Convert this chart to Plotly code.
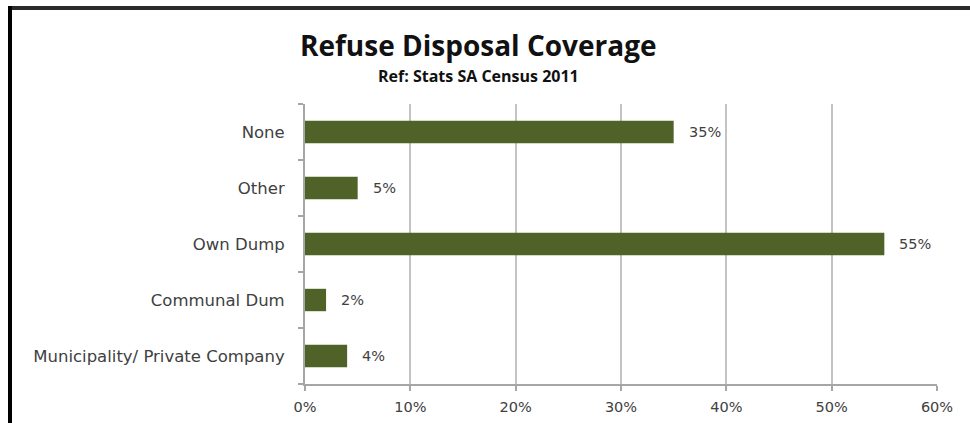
import plotly.graph_objects as go

# Refuse disposal coverage (Stats SA Census 2011), share of households in %
categories = ["None", "Other", "Own Dump", "Communal Dum", "Municipality/ Private Company"]
coverage_pct = [35, 5, 55, 2, 4]
x_ticks = [0, 10, 20, 30, 40, 50, 60]
x_tick_labels = ["0%", "10%", "20%", "30%", "40%", "50%", "60%"]

W, H = 970, 423
M_L, M_R, M_T, M_B = 305, 33, 104, 39
PW, PH = W - M_L - M_R, H - M_T - M_B

BAR = "#4F6228"
TXT = "#404040"
GRID = "#c3c3c3"
AXIS = "#a6a6a6"
FONT = "DejaVu Sans"


def px_x(px):
    return (px - M_L) / PW


def px_y(py):
    return (H - M_B - py) / PH


fig = go.Figure(
    go.Bar(
        x=coverage_pct,
        y=categories,
        orientation="h",
        marker=dict(color=BAR, line=dict(width=0)),
        width=0.4,
        hoverinfo="skip",
    )
)

# value labels just right of each bar end
for cat, v in zip(categories, coverage_pct):
    fig.add_annotation(
        x=v, y=cat, xref="x", yref="y",
        text=f"{v}%", showarrow=False,
        xanchor="left", xshift=13, yshift=0,
        font=dict(family=FONT, size=14.5, color=TXT),
    )

# title and source line
fig.add_annotation(
    x=px_x(478), y=px_y(45), xref="paper", yref="paper",
    text="<b>Refuse Disposal Coverage</b>", showarrow=False,
    xanchor="center", yanchor="middle", borderpad=0,
    font=dict(family="Open Sans", size=28, color="#111111"),
)
fig.add_annotation(
    x=px_x(478), y=px_y(76), xref="paper", yref="paper",
    text="<b>Ref: Stats SA Census 2011</b>", showarrow=False,
    xanchor="center", yanchor="middle", borderpad=0,
    font=dict(family="Open Sans", size=16, color="#111111"),
)

# outer frame: top and left edges
fig.add_shape(type="line", xref="paper", yref="paper",
              x0=px_x(8), x1=px_x(W + 5), y0=px_y(8), y1=px_y(8),
              line=dict(color="#2a2a2a", width=4))
fig.add_shape(type="line", xref="paper", yref="paper",
              x0=px_x(10), x1=px_x(10), y0=px_y(6), y1=px_y(H + 5),
              line=dict(color="#000000", width=4))

fig.update_layout(
    width=W, height=H,
    margin=dict(l=M_L, r=M_R, t=M_T, b=M_B, autoexpand=False),
    paper_bgcolor="white", plot_bgcolor="white",
    showlegend=False,
    bargap=0.6,
    font=dict(family=FONT, size=14, color=TXT),
    xaxis=dict(
        range=[0, 60],
        tickvals=x_ticks, ticktext=x_tick_labels,
        showgrid=True, gridcolor=GRID, gridwidth=2,
        showline=True, linecolor=AXIS, linewidth=2,
        ticks="outside", ticklen=5, tickcolor=AXIS, tickwidth=1.5,
        zeroline=False,
        ticklabelstandoff=4,
        tickfont=dict(family=FONT, size=14.5, color=TXT),
        fixedrange=True,
    ),
    yaxis=dict(
        categoryorder="array", categoryarray=categories[::-1],
        showgrid=False,
        showline=True, linecolor=AXIS, linewidth=2,
        ticks="outside", ticklen=5, tickcolor=AXIS, tickwidth=1.5,
        tickson="boundaries",
        ticklabelstandoff=15,
        tickfont=dict(family=FONT, size=16.5, color=TXT),
        fixedrange=True,
    ),
)

fig.write_html("out.html", config={"displayModeBar": False})
